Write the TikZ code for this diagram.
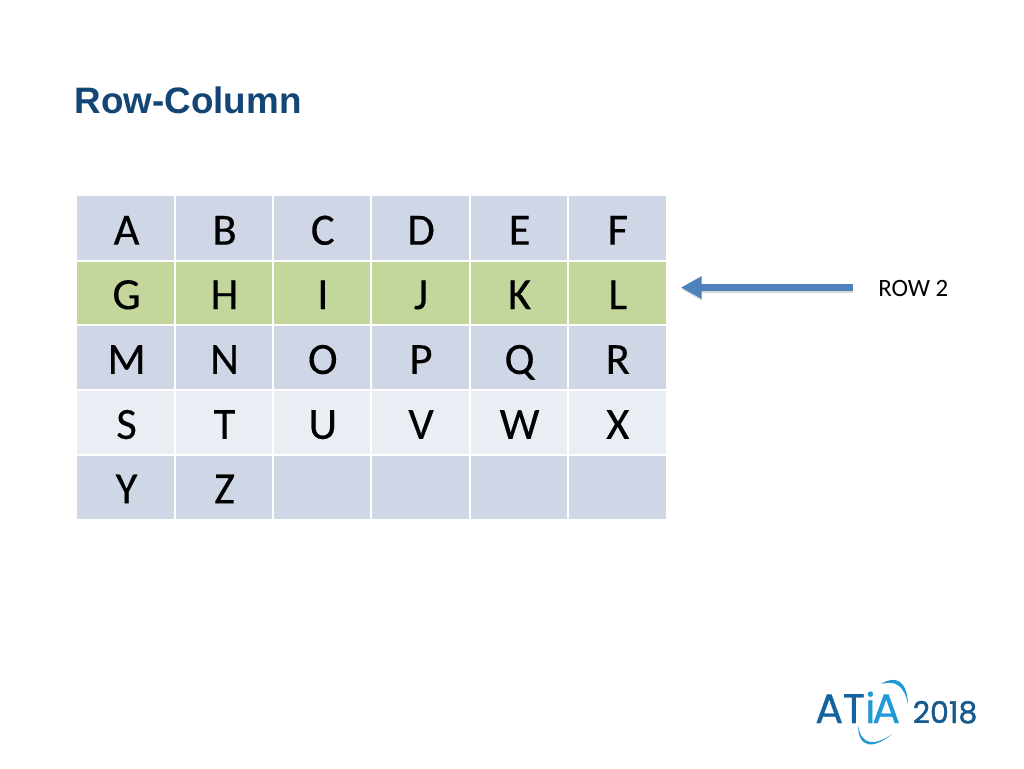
\documentclass[tikz,border=0pt]{standalone}
\usepackage{fontspec}
\setmainfont{Carlito}
\newfontfamily\cellfont[FakeBold=0.25]{Carlito}
\newfontfamily\titlefont{Liberation Sans}
\newfontfamily\logofont[FakeBold=0.6]{Poppins}
\newfontfamily\yearfont[FakeBold=1.2]{Poppins}
\usetikzlibrary{arrows.meta}
\definecolor{bandA}{HTML}{CFD7E7}
\definecolor{bandB}{HTML}{E9EDF4}
\definecolor{rowhi}{HTML}{C3D69B}
\definecolor{titleblue}{HTML}{134674}
\definecolor{arrowblue}{HTML}{4F81BD}
\definecolor{logodark}{HTML}{14639F}
\definecolor{logolight}{HTML}{1F9AD6}
\definecolor{logonum}{HTML}{165A8E}
\tikzset{
  cellbox/.style={inner sep=0pt,outer sep=0pt,anchor=center,text=black,xshift=0.6pt,yshift=-1.3pt,
    font=\cellfont\fontsize{33.5}{36}\selectfont,text height=22pt,text depth=0pt},
  rowarrow/.style={line width=5.8pt,arrowblue,-{Triangle[length=15.5pt,width=16pt]}},
  rowshadow/.style={line width=5.8pt,black!16,-{Triangle[length=15.5pt,width=16pt]}},
  logoletter/.style={anchor=base west,inner sep=0pt,font=\logofont\fontsize{31}{34}\selectfont},
}
\begin{document}
\begin{tikzpicture}[x=0.75pt,y=-0.75pt]
\useasboundingbox (0,0) rectangle (1024,768);
\fill[white] (0,0) rectangle (1024,768);
\node[anchor=base west,inner sep=0pt,text=titleblue,font=\titlefont\bfseries\fontsize{27.6}{30}\selectfont] (title) at (74.5,113) {Row-Column};
% cell backgrounds
\def\xs{{77,174.5,273,371,469.5,568,666}}
\def\ys{{196,260.5,325,390,455,519}}
\foreach \r/\col in {0/bandA,1/rowhi,2/bandA,3/bandB,4/bandA}{
  \foreach \c in {0,...,5}{
    \pgfmathsetmacro{\xa}{\xs[\c]+(\c>0?1:0)}
    \pgfmathsetmacro{\xb}{\xs[\c+1]-(\c<5?1:0)}
    \pgfmathsetmacro{\ya}{\ys[\r]+(\r>0?1:0)}
    \pgfmathsetmacro{\yb}{\ys[\r+1]-(\r<4?1:0)}
    \fill[\col] (\xa,\ya) rectangle (\xb,\yb);
  }
}
% cell letters
\foreach \t [count=\i from 0] in {A,B,C,D,E,F,G,H,I,J,K,L,M,N,O,P,Q,R,S,T,U,V,W,X,Y,Z}{
  \pgfmathtruncatemacro{\rr}{int(\i/6)}
  \pgfmathtruncatemacro{\cc}{mod(\i,6)}
  \pgfmathsetmacro{\cx}{\xs[\cc]/2+\xs[\cc+1]/2}
  \pgfmathsetmacro{\cy}{\ys[\rr]/2+\ys[\rr+1]/2}
  \node[cellbox] (cell\t) at (\cx,\cy) {\t};
}
% arrow
\coordinate (arrowstart) at (853,287.5);
\coordinate (arrowend) at (681,287.5);
\coordinate (shadowstart) at (853,289);
\coordinate (shadowend) at (681,289);
\draw[rowshadow] (shadowstart) -- (shadowend);
\draw[rowarrow] (arrowstart) -- (arrowend);
\node[anchor=base west,inner sep=0pt,font=\fontsize{18.7}{20}\selectfont] (rowlabel) at (878,296) {ROW 2};
% logo
\node[logoletter,text=logodark] (logoA) at (815,723) {A};
\node[logoletter,text=logodark] (logoT) at (842.5,723) {T};
\node[logoletter,text=logolight] (logoI) at (865,723) {i};
\node[logoletter,text=logolight] (logoB) at (872,723) {A};
\node[anchor=base west,inner sep=0pt,text=logonum,font=\yearfont\fontsize{22.5}{24}\selectfont] (logoyear) at (912.5,723) {2018};
\fill[logolight] (881,684) .. controls (895,675) and (907,680) .. (908,704) .. controls (904,685) and (895,680) .. (881,684) -- cycle;
\fill[logolight] (858,725) .. controls (858,748) and (873,750) .. (892,734) .. controls (875,746) and (861,746) .. (858,725) -- cycle;
\end{tikzpicture}
\end{document}
